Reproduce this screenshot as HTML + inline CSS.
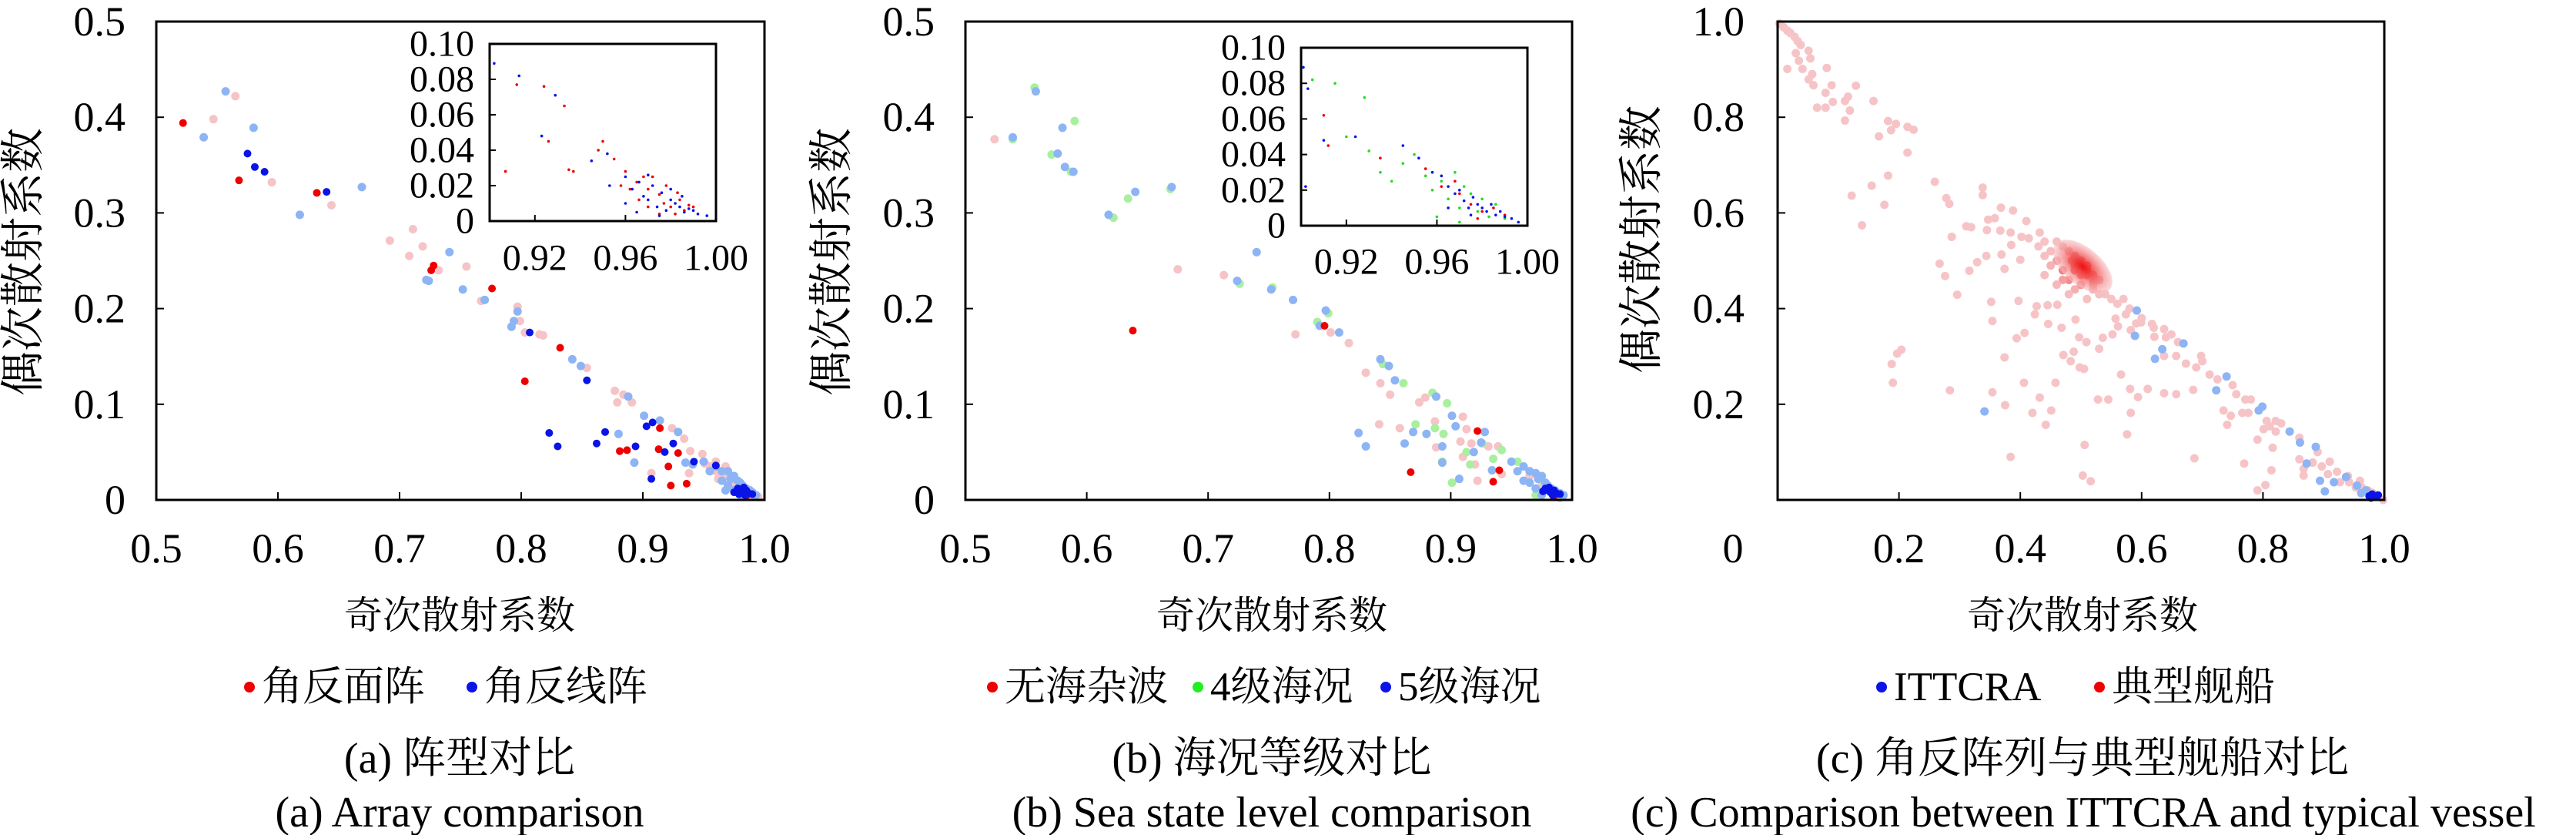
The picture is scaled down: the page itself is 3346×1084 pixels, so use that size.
<!DOCTYPE html>
<html><head><meta charset="utf-8"><style>
html,body{margin:0;padding:0;background:#fff;}
svg{display:block;}
text{font-family:"Liberation Serif","Noto Serif CJK SC",serif;fill:#000;}
.cjk{font-family:"Liberation Serif","Noto Serif CJK SC","Noto Sans CJK SC",serif;}
</style></head><body>
<svg id="chart" width="3346" height="1084" viewBox="0 0 3346 1084" xmlns="http://www.w3.org/2000/svg"></svg>
<script>
// ---------- Panel (a) data ----------
const aRedDark=[[0.522,0.394],[0.568,0.334],[0.632,0.321],[0.726,0.240],[0.728,0.245],[0.776,0.221],[0.803,0.124],[0.832,0.159],[0.881,0.051],[0.887,0.052],[0.914,0.075],[0.913,0.053],[0.921,0.035],[0.923,0.015],[0.936,0.017],[0.929,0.049],[0.985,0.004]];
const aBlueDark=[[0.575,0.362],[0.581,0.348],[0.589,0.343],[0.640,0.322],[0.807,0.175],[0.854,0.125],[0.823,0.070],[0.830,0.056],[0.862,0.059],[0.869,0.071],[0.894,0.056],[0.903,0.077],[0.908,0.081],[0.918,0.050],[0.925,0.059],[0.907,0.022],[0.942,0.040],[0.978,0.012],[0.980,0.010],[0.982,0.008],[0.985,0.010],[0.987,0.007],[0.984,0.005],[0.975,0.008],[0.990,0.006],[0.960,0.036],[0.983,0.013],[0.979,0.006]];
const aRedLight=[[0.547,0.398],[0.565,0.422],[0.595,0.332],[0.644,0.308],[0.692,0.271],[0.711,0.283],[0.708,0.255],[0.719,0.265],[0.732,0.240],[0.755,0.244],[0.767,0.208],[0.797,0.202],[0.799,0.187],[0.803,0.175],[0.815,0.173],[0.818,0.172],[0.854,0.138],[0.877,0.114],[0.884,0.110],[0.879,0.102],[0.891,0.102],[0.924,0.075],[0.934,0.064],[0.939,0.051],[0.907,0.028],[0.938,0.028],[0.949,0.048],[0.951,0.038],[0.955,0.035],[0.960,0.030],[0.965,0.028],[0.970,0.025],[0.972,0.020],[0.975,0.018],[0.978,0.015],[0.980,0.012],[0.983,0.010],[0.990,0.005],[0.995,0.003],[0.960,0.040],[0.968,0.035],[0.962,0.022]];
const aBlueLight=[[0.539,0.379],[0.557,0.427],[0.580,0.389],[0.618,0.298],[0.669,0.327],[0.722,0.230],[0.724,0.229],[0.741,0.259],[0.752,0.220],[0.770,0.209],[0.792,0.181],[0.794,0.187],[0.797,0.197],[0.842,0.147],[0.849,0.140],[0.880,0.069],[0.888,0.108],[0.901,0.088],[0.914,0.083],[0.929,0.071],[0.893,0.039],[0.935,0.039],[0.941,0.037],[0.950,0.040],[0.955,0.030],[0.960,0.035],[0.965,0.030],[0.970,0.030],[0.972,0.022],[0.975,0.025],[0.978,0.020],[0.980,0.018],[0.982,0.015],[0.985,0.012],[0.988,0.010],[0.990,0.008],[0.993,0.005],[0.975,0.010],[0.980,0.005],[0.970,0.015],[0.965,0.020],[0.968,0.010]];
const aInsetRed=[[0.912,0.077],[0.924,0.076],[0.933,0.065],[0.907,0.028],[0.926,0.045],[0.935,0.029],[0.937,0.028],[0.948,0.040],[0.950,0.045],[0.955,0.035],[0.960,0.028],[0.965,0.022],[0.968,0.025],[0.970,0.018],[0.972,0.025],[0.975,0.015],[0.977,0.010],[0.980,0.008],[0.982,0.004],[0.984,0.012],[0.986,0.006],[0.988,0.009],[0.975,0.004],[0.970,0.008],[0.962,0.018],[0.978,0.020],[0.983,0.016],[0.990,0.008],[0.958,0.020],[0.966,0.012]];
const aInsetBlue=[[0.902,0.089],[0.913,0.082],[0.929,0.071],[0.923,0.048],[0.945,0.034],[0.952,0.038],[0.953,0.020],[0.960,0.025],[0.963,0.018],[0.966,0.022],[0.968,0.014],[0.970,0.012],[0.972,0.020],[0.974,0.008],[0.976,0.016],[0.978,0.006],[0.980,0.012],[0.982,0.010],[0.984,0.008],[0.986,0.005],[0.988,0.007],[0.990,0.006],[0.992,0.004],[0.996,0.003],[0.975,0.003],[0.965,0.005],[0.980,0.018],[0.985,0.014],[0.970,0.026],[0.960,0.010]];
// ---------- Panel (b) data ----------
const bRedDark=[[0.638,0.177],[0.796,0.182],[0.867,0.029],[0.922,0.072],[0.935,0.019],[0.940,0.031],[0.985,0.003]];
const bRedLight=[[0.524,0.377],[0.675,0.241],[0.713,0.235],[0.772,0.173],[0.801,0.175],[0.816,0.164],[0.830,0.133],[0.842,0.122],[0.850,0.110],[0.841,0.079],[0.858,0.075],[0.874,0.102],[0.879,0.107],[0.887,0.082],[0.888,0.055],[0.910,0.087],[0.913,0.074],[0.908,0.061],[0.917,0.059],[0.910,0.045],[0.920,0.037],[0.922,0.020],[0.931,0.056],[0.939,0.056],[0.942,0.027],[0.965,0.025],[0.975,0.015]];
const bGreenLight=[[0.557,0.431],[0.539,0.377],[0.571,0.361],[0.590,0.396],[0.587,0.343],[0.634,0.315],[0.622,0.295],[0.669,0.325],[0.726,0.226],[0.753,0.222],[0.790,0.186],[0.799,0.195],[0.844,0.142],[0.861,0.122],[0.885,0.112],[0.897,0.101],[0.871,0.079],[0.887,0.075],[0.893,0.040],[0.894,0.069],[0.901,0.018],[0.913,0.050],[0.916,0.037],[0.926,0.059],[0.935,0.043],[0.942,0.052],[0.955,0.040],[0.965,0.030],[0.970,0.005],[0.975,0.020],[0.990,0.002]];
const bBlueLight=[[0.539,0.379],[0.558,0.427],[0.576,0.362],[0.580,0.389],[0.582,0.348],[0.589,0.343],[0.618,0.298],[0.640,0.322],[0.670,0.327],[0.724,0.229],[0.740,0.259],[0.752,0.220],[0.770,0.209],[0.797,0.198],[0.792,0.182],[0.808,0.175],[0.842,0.147],[0.849,0.140],[0.854,0.125],[0.824,0.070],[0.830,0.056],[0.862,0.059],[0.869,0.071],[0.880,0.069],[0.888,0.108],[0.901,0.088],[0.904,0.077],[0.893,0.056],[0.893,0.039],[0.907,0.022],[0.928,0.071],[0.919,0.050],[0.925,0.060],[0.934,0.031],[0.950,0.040],[0.955,0.030],[0.960,0.035],[0.965,0.030],[0.970,0.028],[0.972,0.022],[0.975,0.025],[0.978,0.018],[0.980,0.015],[0.983,0.012],[0.986,0.010],[0.990,0.007],[0.993,0.005],[0.970,0.012],[0.965,0.018],[0.960,0.020],[0.975,0.005]];
const bBlueDark=[[0.978,0.012],[0.980,0.010],[0.982,0.008],[0.985,0.010],[0.987,0.007],[0.984,0.005],[0.976,0.009],[0.990,0.006],[0.981,0.013]];
const bInsetRed=[[0.910,0.062],[0.912,0.045],[0.935,0.038],[0.955,0.032],[0.962,0.022],[0.970,0.018],[0.975,0.012],[0.980,0.008],[0.985,0.010],[0.978,0.004],[0.990,0.006],[0.968,0.025]];
const bInsetGreen=[[0.905,0.082],[0.915,0.080],[0.928,0.072],[0.920,0.050],[0.930,0.042],[0.935,0.030],[0.945,0.035],[0.950,0.040],[0.955,0.028],[0.958,0.020],[0.962,0.025],[0.965,0.015],[0.968,0.030],[0.970,0.010],[0.972,0.022],[0.975,0.018],[0.978,0.008],[0.980,0.015],[0.983,0.005],[0.986,0.012],[0.960,0.005],[0.970,0.002],[0.990,0.004],[0.940,0.025]];
const bInsetBlue=[[0.901,0.089],[0.903,0.077],[0.910,0.048],[0.902,0.022],[0.924,0.050],[0.945,0.045],[0.952,0.038],[0.958,0.030],[0.962,0.028],[0.965,0.022],[0.968,0.018],[0.970,0.020],[0.972,0.014],[0.974,0.010],[0.976,0.016],[0.978,0.012],[0.980,0.010],[0.982,0.008],[0.984,0.012],[0.986,0.006],[0.988,0.008],[0.990,0.005],[0.993,0.004],[0.996,0.002],[0.975,0.006],[0.965,0.010]];
// ---------- Panel (c) data ----------
const cVessel=[[0.003,0.996],[0.010,0.988],[0.016,0.981],[0.021,0.976],[0.028,0.968],[0.033,0.959],[0.038,0.951],[0.030,0.934],[0.035,0.918],[0.016,0.901],[0.041,0.901],[0.051,0.939],[0.054,0.923],[0.057,0.890],[0.051,0.879],[0.059,0.867],[0.081,0.903],[0.089,0.867],[0.079,0.851],[0.091,0.832],[0.065,0.820],[0.079,0.820],[0.111,0.834],[0.116,0.843],[0.119,0.814],[0.111,0.793],[0.129,0.866],[0.158,0.834],[0.182,0.792],[0.187,0.773],[0.195,0.786],[0.214,0.780],[0.224,0.774],[0.167,0.760],[0.214,0.726],[0.182,0.678],[0.155,0.657],[0.122,0.636],[0.176,0.617],[0.139,0.574],[0.259,0.665],[0.278,0.631],[0.283,0.619],[0.338,0.653],[0.338,0.637],[0.368,0.611],[0.388,0.605],[0.410,0.583],[0.358,0.589],[0.347,0.586],[0.311,0.572],[0.319,0.570],[0.367,0.563],[0.345,0.564],[0.384,0.559],[0.402,0.550],[0.414,0.547],[0.432,0.559],[0.287,0.550],[0.385,0.533],[0.369,0.513],[0.344,0.510],[0.329,0.497],[0.400,0.502],[0.374,0.483],[0.267,0.494],[0.316,0.479],[0.276,0.468],[0.296,0.429],[0.352,0.414],[0.354,0.374],[0.397,0.416],[0.427,0.405],[0.445,0.407],[0.461,0.408],[0.446,0.368],[0.424,0.388],[0.491,0.377],[0.468,0.360],[0.407,0.349],[0.394,0.338],[0.374,0.298],[0.497,0.340],[0.509,0.330],[0.471,0.303],[0.488,0.310],[0.498,0.277],[0.483,0.290],[0.505,0.274],[0.530,0.316],[0.536,0.339],[0.552,0.346],[0.557,0.379],[0.561,0.363],[0.574,0.388],[0.582,0.355],[0.591,0.369],[0.599,0.371],[0.617,0.368],[0.621,0.341],[0.637,0.357],[0.649,0.346],[0.637,0.301],[0.657,0.301],[0.673,0.285],[0.690,0.277],[0.698,0.301],[0.712,0.262],[0.725,0.252],[0.657,0.221],[0.637,0.223],[0.610,0.232],[0.581,0.232],[0.594,0.215],[0.566,0.262],[0.528,0.210],[0.545,0.210],[0.582,0.182],[0.576,0.137],[0.506,0.115],[0.503,0.051],[0.516,0.039],[0.458,0.245],[0.406,0.245],[0.432,0.214],[0.420,0.182],[0.451,0.187],[0.442,0.157],[0.375,0.198],[0.354,0.225],[0.284,0.229],[0.188,0.284],[0.197,0.306],[0.204,0.314],[0.190,0.245],[0.384,0.090],[0.685,0.230],[0.687,0.087],[0.747,0.176],[0.735,0.187],[0.756,0.221],[0.771,0.210],[0.766,0.182],[0.741,0.157],[0.776,0.182],[0.806,0.165],[0.811,0.154],[0.821,0.165],[0.801,0.148],[0.821,0.143],[0.816,0.109],[0.791,0.126],[0.814,0.062],[0.804,0.031],[0.791,0.020],[0.769,0.076],[0.860,0.085],[0.867,0.065],[0.882,0.078],[0.897,0.070],[0.867,0.051],[0.907,0.054],[0.922,0.059],[0.927,0.037],[0.942,0.037],[0.953,0.026],[0.963,0.026],[0.973,0.020],[0.988,0.009],[0.998,0.000],
[0.43,0.53],[0.45,0.52],[0.46,0.50],[0.47,0.48],[0.48,0.46],[0.50,0.45],[0.52,0.44],[0.54,0.43],[0.55,0.42],[0.44,0.51],[0.47,0.53],[0.49,0.51],[0.51,0.47],[0.53,0.46],[0.56,0.41],[0.58,0.40],[0.60,0.38],[0.44,0.54],[0.46,0.54],[0.48,0.52],[0.50,0.50],[0.50,0.49],[0.51,0.48],[0.49,0.49],[0.52,0.47],[0.45,0.49],[0.47,0.46],[0.49,0.44],[0.53,0.43],[0.51,0.42],[0.46,0.45],[0.48,0.43],[0.44,0.47],[0.50,0.47],[0.52,0.45],[0.49,0.48],[0.505,0.485],[0.495,0.495],[0.51,0.49],[0.485,0.50],[0.52,0.46],[0.57,0.42],[0.62,0.36],[0.64,0.34],[0.66,0.33],[0.70,0.29],[0.75,0.24],[0.78,0.21],[0.83,0.16],[0.86,0.13],[0.89,0.10],[0.91,0.08],[0.94,0.05],[0.96,0.04],[0.98,0.015]];
const cHotspot=[0.503,0.488];
const cIttcraLight=[[0.592,0.396],[0.589,0.343],[0.634,0.315],[0.622,0.295],[0.669,0.327],[0.740,0.258],[0.723,0.229],[0.793,0.187],[0.799,0.195],[0.844,0.143],[0.861,0.120],[0.887,0.111],[0.894,0.040],[0.902,0.018],[0.872,0.076],[0.917,0.037],[0.341,0.185],[0.937,0.048],[0.962,0.014],[0.976,0.009],[0.955,0.030],[0.970,0.020],[0.985,0.010]];
const cIttcraDark=[[0.975,0.008],[0.980,0.012],[0.985,0.006],[0.990,0.010],[0.978,0.004]];

const svg=document.getElementById('chart');
const NS='http://www.w3.org/2000/svg';
function el(tag,attrs,parent){const e=document.createElementNS(NS,tag);for(const k in attrs)e.setAttribute(k,attrs[k]);(parent||svg).appendChild(e);return e;}
function txt(s,x,y,size,anchor,parent,cls){const t=el('text',{x:x,y:y,'font-size':size,'text-anchor':anchor||'middle','dominant-baseline':'central'},parent);if(cls)t.setAttribute('class',cls);t.textContent=s;return t;}

function makeAxes(name,L,R,T,B,xmin,xmax,ymin,ymax){
  const g=el('g',{});
  
  
  const sx=v=>L+(v-xmin)/(xmax-xmin)*(R-L);
  const sy=v=>B-(v-ymin)/(ymax-ymin)*(B-T);
  return {g,sx,sy,L,R,T,B};
}
function frame(ax,lw){
  const r=el('rect',{x:ax.L,y:ax.T,width:ax.R-ax.L,height:ax.B-ax.T,fill:'none',stroke:'#000','stroke-width':lw},ax.g);
  
  
}
function ticks(ax,xt,xl,yt,yl,fs,xLabY,yLabX,tl){
  const gx=el('g',{},ax.g);
  
  
  xt.forEach((v,i)=>{const X=ax.sx(v);el('line',{x1:X,x2:X,y1:ax.B,y2:ax.B-tl,stroke:'#000','stroke-width':2},gx);
    if(xl[i]!==null){const t=txt(xl[i],X,xLabY,fs,'middle',gx);}});
  const gy=el('g',{},ax.g);
  
  
  yt.forEach((v,i)=>{const Y=ax.sy(v);el('line',{x1:ax.L,x2:ax.L+tl,y1:Y,y2:Y,stroke:'#000','stroke-width':2},gy);
    if(yl[i]!==null){const t=txt(yl[i],yLabX,Y,fs,'end',gy);}});
}
function dots(ax,data,color,r,name){
  const g=el('g',{},ax.g);
  
  
  data.forEach(p=>{const c=el('circle',{cx:ax.sx(p[0]),cy:ax.sy(p[1]),r:r,fill:color},g);
    
    });
}
function legendEntry(x,y,color,label){
  const g=el('g',{});
  
  
  el('circle',{cx:x,cy:y,r:7,fill:color},g);
  txt(label,x+16,y,53,'start',g,'cjk');
}
function rotTitle(x,y,s){const t=txt(s,0,0,58,'middle',null,'cjk');t.setAttribute('transform',`translate(${x},${y}) rotate(-90)`);
  }
function plainText(s,x,y,size,name,cls){const t=txt(s,x,y,size,'middle',null,cls);}

const LR='#f6c3c6', LB='#8db4f4', DR='#ee0000', DB='#0a14e6', LG='#a8f0a0';
const mainXt=[0.5,0.6,0.7,0.8,0.9,1.0], mainXl=['0.5','0.6','0.7','0.8','0.9','1.0'];
const mainYt=[0,0.1,0.2,0.3,0.4,0.5], mainYl=['0','0.1','0.2','0.3','0.4','0.5'];
const inXt=[0.92,0.96,1.00], inXl=['0.92','0.96','1.00'];
const inYt=[0,0.02,0.04,0.06,0.08,0.10], inYl=['0','0.02','0.04','0.06','0.08','0.10'];

// Panel a
const A=makeAxes('panel-a-array-comparison',203,993,28,649,0.5,1.0,0,0.5);
dots(A,aRedLight,LR,5.5,'series-area-array-light');
dots(A,aBlueLight,LB,5.5,'series-line-array-light');
dots(A,aRedDark,DR,5,'series-area-array');
dots(A,aBlueDark,DB,5,'series-line-array');
frame(A,3);
ticks(A,mainXt,mainXl,mainYt,mainYl,54,712,163,10);
const AI=makeAxes('panel-a-inset',636,930,57,287,0.90,1.00,0,0.10);
el('rect',{x:636,y:57,width:294,height:230,fill:'#fff'},AI.g);
dots(AI,aInsetRed,DR,1.8,'inset-area-array');
dots(AI,aInsetBlue,DB,1.8,'inset-line-array');
frame(AI,3);
ticks(AI,inXt,inXl,inYt,inYl,48,335,616,8);
plainText('奇次散射系数',597,799,50,'x-axis-title','cjk');
rotTitle(30,340,'偶次散射系数');
legendEntry(324,892,DR,'角反面阵');
legendEntry(613,892,DB,'角反线阵');
plainText('(a) 阵型对比',597,985,56,'caption-cn-a','cjk');
plainText('(a) Array comparison',597,1055,56,'caption-en-a');

// Panel b
const Bp=makeAxes('panel-b-sea-state',1254,2042,28,649,0.5,1.0,0,0.5);
dots(Bp,bRedLight,LR,5.5,'series-no-clutter-light');
dots(Bp,bGreenLight,LG,5.5,'series-sea-state-4');
dots(Bp,bBlueLight,LB,5.5,'series-sea-state-5-light');
dots(Bp,bRedDark,DR,5,'series-no-clutter');
dots(Bp,bBlueDark,DB,5,'series-sea-state-5');
frame(Bp,3);
ticks(Bp,mainXt,mainXl,mainYt,mainYl,54,712,1214,10);
const BI=makeAxes('panel-b-inset',1690,1984,62,293,0.90,1.00,0,0.10);
el('rect',{x:1690,y:62,width:294,height:231,fill:'#fff'},BI.g);
dots(BI,bInsetGreen,'#22dd22',1.8,'inset-sea-state-4');
dots(BI,bInsetRed,DR,1.8,'inset-no-clutter');
dots(BI,bInsetBlue,DB,1.8,'inset-sea-state-5');
frame(BI,3);
ticks(BI,inXt,inXl,inYt,inYl,48,340,1670,8);
plainText('奇次散射系数',1652,799,50,'x-axis-title','cjk');
rotTitle(1080,340,'偶次散射系数');
legendEntry(1289,892,DR,'无海杂波');
legendEntry(1556,892,'#22ee22','4级海况');
legendEntry(1800,892,DB,'5级海况');
plainText('(b) 海况等级对比',1652,985,56,'caption-cn-b','cjk');
plainText('(b) Sea state level comparison',1652,1055,56,'caption-en-b');

// Panel c
const C=makeAxes('panel-c-ittcra-vs-vessel',2309,3097,28,649,0,1.0,0,1.0);
function mix(t){const a=[246,196,199],b=[240,20,20];return 'rgb('+a.map((v,i)=>Math.round(v+(b[i]-v)*t)).join(',')+')';}
const gv=el('g',{},C.g);


cVessel.forEach(p=>{const d2=(p[0]-cHotspot[0])**2+(p[1]-cHotspot[1])**2;const t=Math.exp(-d2/0.0012);
  const c=el('circle',{cx:C.sx(p[0]),cy:C.sy(p[1]),r:5.5,fill:mix(t)},gv);
  
  });
const hs=el('ellipse',{cx:C.sx(cHotspot[0]),cy:C.sy(cHotspot[1]),rx:46,ry:24,fill:'url(#hot)',transform:`rotate(40 ${C.sx(cHotspot[0])} ${C.sy(cHotspot[1])})`},C.g);


const defs=el('defs',{});
const rg=el('radialGradient',{id:'hot'},defs);
el('stop',{offset:'0','stop-color':'#ee1111','stop-opacity':'1'},rg);
el('stop',{offset:'0.45','stop-color':'#f26060','stop-opacity':'0.85'},rg);
el('stop',{offset:'1','stop-color':'#f6c3c6','stop-opacity':'0.6'},rg);
dots(C,cIttcraLight,LB,5.5,'series-ittcra-light');
dots(C,cIttcraDark,DB,5,'series-ittcra');
frame(C,3);
ticks(C,[0.2,0.4,0.6,0.8,1.0],['0.2','0.4','0.6','0.8','1.0'],[0.2,0.4,0.6,0.8,1.0],['0.2','0.4','0.6','0.8','1.0'],54,712,2266,10);
plainText('0',2251,712,54,'x-tick-label-zero');
plainText('奇次散射系数',2705,799,50,'x-axis-title','cjk');
rotTitle(2132,311,'偶次散射系数');
legendEntry(2444,892,DB,'ITTCRA');
legendEntry(2727,892,DR,'典型舰船');
plainText('(c) 角反阵列与典型舰船对比',2705,985,56,'caption-cn-c','cjk');
plainText('(c) Comparison between ITTCRA and typical vessel',2706,1055,56,'caption-en-c');
</script>
</body></html>
